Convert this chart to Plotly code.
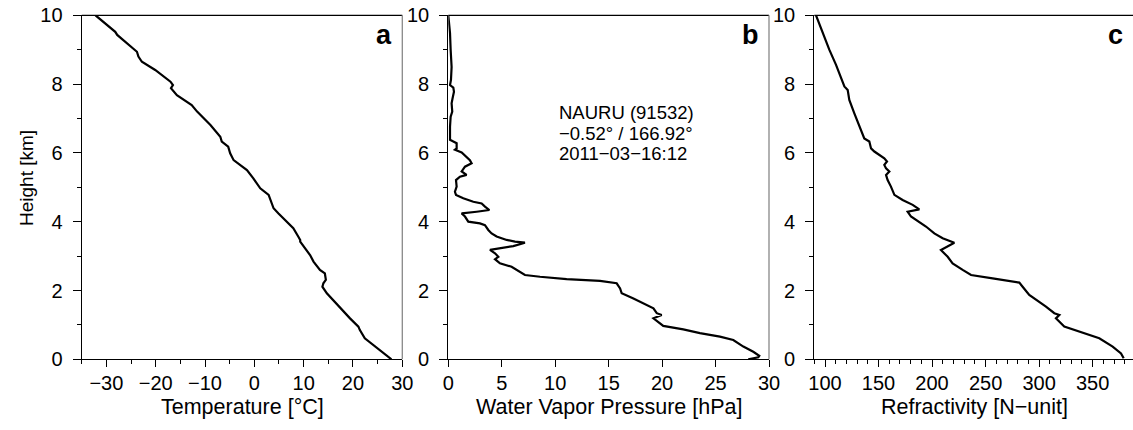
import plotly.graph_objects as go

# ---------------- data ----------------
height_a = [10.0, 9.52, 9.43, 9.23, 8.94, 8.80, 8.65, 8.41, 8.07, 7.97, 7.88, 7.68, 7.39, 7.20,
            6.81, 6.47, 6.33, 6.18, 5.99, 5.79, 5.50, 5.26, 4.97, 4.78, 4.53, 4.39, 4.24, 4.05,
            3.81, 3.57, 3.47, 3.42, 3.23, 3.03, 2.84, 2.60, 2.50, 2.31, 2.21, 2.11, 1.92, 1.72,
            1.43, 1.19, 0.95, 0.85, 0.61, 0.37, 0.0]
temperature = [-32.2, -28.2, -27.8, -26.2, -23.8, -23.5, -22.8, -20.1, -17.0, -16.5, -16.9, -15.7,
               -12.7, -11.6, -8.9, -6.9, -6.6, -5.3, -4.9, -4.2, -1.5, -0.2, 1.2, 2.9, 3.5, 3.9,
               4.9, 6.2, 7.9, 8.9, 9.3, 9.3, 10.3, 11.3, 12.0, 13.3, 14.3, 14.5, 14.0, 13.8, 14.7,
               16.0, 17.7, 19.4, 21.1, 21.4, 22.4, 24.5, 27.8]

height_b = [10.0, 9.48, 9.0, 8.5, 8.12, 7.97, 7.9, 7.78, 7.59, 7.44, 7.2, 7.05, 6.76, 6.38, 6.33,
            6.28, 6.13, 6.09, 6.01, 5.89, 5.79, 5.70, 5.60, 5.46, 5.36, 5.31, 5.21, 5.02, 4.87,
            4.78, 4.68, 4.58, 4.53, 4.44, 4.34, 4.29, 4.24, 4.15, 4.0, 3.95, 3.9, 3.76, 3.66,
            3.57, 3.47, 3.42, 3.39, 3.29, 3.23, 3.18, 3.08, 2.98, 2.91, 2.79, 2.69, 2.55, 2.45,
            2.40, 2.33, 2.28, 2.21, 2.06, 1.92, 1.77, 1.58, 1.48, 1.34, 1.29, 1.19, 1.09, 0.97,
            0.87, 0.76, 0.66, 0.56, 0.37, 0.22, 0.10, 0.06, 0.0]
vapor_pressure = [0.0, 0.16, 0.22, 0.31, 0.25, 0.16, 0.47, 0.53, 0.4, 0.31, 0.37, 0.22, 0.16, 0.16,
                  0.47, 0.78, 0.78, 0.62, 1.25, 1.71, 2.02, 2.18, 1.56, 1.25, 1.71, 1.09, 0.72,
                  0.78, 0.62, 0.72, 1.4, 2.34, 3.12, 3.43, 3.84, 2.65, 1.25, 1.56, 1.87, 2.96,
                  3.43, 3.74, 4.05, 4.52, 5.46, 6.24, 7.17, 6.08, 4.83, 3.9, 4.37, 4.68, 4.37,
                  4.83, 5.92, 6.70, 7.17, 8.58, 11.07, 14.19, 15.75, 16.07, 16.22, 17.32, 18.56,
                  19.19, 19.5, 19.96, 19.19, 19.65, 20.11, 21.98, 23.54, 25.41, 26.66, 27.6,
                  28.53, 29.09, 29.0, 28.06]

height_c = [10.0, 9.48, 9.0, 8.56, 8.17, 7.93, 7.83, 7.54, 7.15, 6.76, 6.42, 6.33, 6.13, 6.04,
            5.94, 5.84, 5.75, 5.65, 5.55, 5.46, 5.36, 5.21, 5.02, 4.87, 4.78, 4.63, 4.49, 4.36,
            4.29, 4.15, 4.0, 3.86, 3.66, 3.52, 3.39, 3.18, 2.98, 2.79, 2.60, 2.45, 2.35, 2.23,
            2.11, 1.87, 1.53, 1.34, 1.29, 1.19, 0.95, 0.80, 0.61, 0.37, 0.17, 0.03]
refractivity = [91.6, 97.8, 104.0, 110.3, 115.0, 118.1, 121.2, 122.7, 127.4, 132.1, 136.7, 141.4,
                143.0, 146.1, 150.7, 155.4, 157.9, 155.4, 157.0, 160.1, 157.0, 158.5, 161.6,
                163.2, 164.8, 172.5, 181.9, 188.1, 177.2, 180.3, 188.1, 194.3, 202.1, 209.9,
                220.8, 208.3, 214.6, 219.2, 228.6, 236.4, 256.6, 281.5, 284.6, 290.8, 306.4,
                314.2, 318.9, 315.7, 323.5, 337.5, 356.2, 368.7, 376.5, 379.0]

x_titles = ["Temperature [°C]", "Water Vapor Pressure [hPa]", "Refractivity [N\u2212unit]"]
y_title = "Height [km]"
panel_letters = ["a", "b", "c"]
station_lines = ["NAURU (91532)", "\u22120.52° / 166.92°", "2011\u221203\u221216:12"]

# ---------------- layout geometry (pixels) ----------------
W, H = 1133, 430
FONT = "Liberation Sans, Arial, Helvetica, sans-serif"
top_px, bot_px = 15.3, 359.3
panels_px = [(81.7, 402.3), (448.3, 769.0), (814.3, 1133.0)]
title_centers = [242.0, 608.6, 974.5]


def px(x):
    return x / W


def py(y):
    return 1 - y / H


fig = go.Figure()
series = [(temperature, height_a), (vapor_pressure, height_b), (refractivity, height_c)]
for i, (xv, yv) in enumerate(series):
    fig.add_trace(go.Scatter(x=xv, y=yv, mode="lines",
                             line=dict(color="black", width=2.2),
                             xaxis="x" if i == 0 else f"x{i+1}",
                             yaxis="y" if i == 0 else f"y{i+1}",
                             showlegend=False, hoverinfo="skip"))

xranges = [[-35, 30], [0, 30], [90, 387.7]]
xdticks = [10, 5, 50]
xminor = [5, None, 10]
ydom = [py(bot_px), py(top_px)]

layout = dict(template="none", width=W, height=H, margin=dict(l=0, r=0, t=0, b=0, pad=0),
              paper_bgcolor="white", plot_bgcolor="white",
              font=dict(family=FONT, color="black", size=20))

for i in range(3):
    sx = "" if i == 0 else str(i + 1)
    l, r = panels_px[i]
    xa = dict(domain=[px(l), min(px(r), 1.0)], range=xranges[i], dtick=xdticks[i],
              tick0=0 if i < 2 else 100, automargin=False,
              showgrid=False, zeroline=False, showline=True, linecolor="black", linewidth=1.3,
              ticks="outside", ticklen=7, tickwidth=1.3, tickcolor="black",
              tickfont=dict(family=FONT, size=20, color="black"),
              ticklabelstandoff=-1, anchor="y" + sx)
    if xminor[i]:
        xa["minor"] = dict(dtick=xminor[i], ticks="outside", ticklen=4, tickwidth=1.2,
                           tickcolor="black", showgrid=False)
    ya = dict(domain=ydom, range=[0, 10], dtick=2, tick0=0, automargin=False,
              showgrid=False, zeroline=False, showline=True, linecolor="black", linewidth=1.3,
              ticks="outside", ticklen=8, tickwidth=1.3, tickcolor="black",
              tickfont=dict(family=FONT, size=20, color="black"),
              ticklabelstandoff=6, anchor="x" + sx,
              minor=dict(dtick=1, ticks="outside", ticklen=4, tickwidth=1.2,
                         tickcolor="black", showgrid=False))
    layout["xaxis" + sx] = xa
    layout["yaxis" + sx] = ya

shapes = []
annotations = []
for i in range(3):
    l, r = panels_px[i]
    shapes.append(dict(type="line", xref="paper", yref="paper",
                       x0=px(l), x1=min(px(r), 1.0), y0=py(top_px), y1=py(top_px),
                       line=dict(color="black", width=1.3)))
    if i < 2:
        shapes.append(dict(type="line", xref="paper", yref="paper",
                           x0=px(r), x1=px(r), y0=py(top_px), y1=py(bot_px),
                           line=dict(color="#888888", width=1.3)))
    annotations.append(dict(text=x_titles[i], xref="paper", yref="paper",
                            x=px(title_centers[i]), y=py(406.5), xanchor="center", yanchor="middle",
                            showarrow=False, font=dict(family=FONT, size=21.5, color="black")))
    letter_right = [393.5, 761.0, 1125.0][i]
    annotations.append(dict(text="<b>" + panel_letters[i] + "</b>", xref="paper", yref="paper",
                            x=px(letter_right), y=py(35), xanchor="right", yanchor="middle",
                            showarrow=False, font=dict(family=FONT, size=27, color="black")))

annotations.append(dict(text=y_title, xref="paper", yref="paper", x=px(26), y=py(178),
                        xanchor="center", yanchor="middle", textangle=-90, showarrow=False,
                        font=dict(family=FONT, size=19, color="black")))

for j, line in enumerate(station_lines):
    annotations.append(dict(text=line, xref="paper", yref="paper", x=px(557), y=py(113 + 20 * j),
                            xanchor="left", yanchor="middle", showarrow=False,
                            font=dict(family=FONT, size=18.5, color="black")))

layout["shapes"] = shapes
layout["annotations"] = annotations
fig.update_layout(**layout)
fig.write_html("out.html", config={"displayModeBar": False},
               post_script="document.body.style.margin='0';document.body.style.overflow='hidden';")
